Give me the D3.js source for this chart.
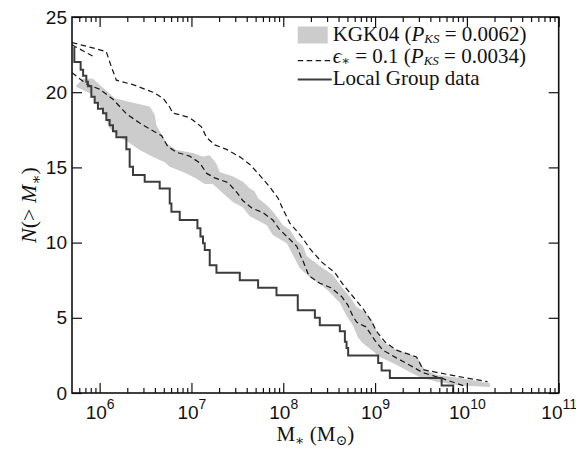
<!DOCTYPE html>
<html>
<head>
<meta charset="utf-8">
<script src="https://cdn.jsdelivr.net/npm/d3@7"></script>
<style>
  body { margin: 0; background: #fff; }
  .tick text { font-family: "Liberation Sans", Arial, sans-serif; font-size: 19px; fill: #111; }
  .serif { font-family: "Liberation Serif", "DejaVu Serif", serif; fill: #111; }
</style>
</head>
<body>
<div id="chart"></div>
<script>
// Local Group data, cumulative step counts
var lgMass = [5.3e5, 5.3e5, 6.21e5, 6.61e5, 7.16e5, 7.45e5, 8.12e5, 8.83e5, 9.58e5, 1.087e6, 1.183e6, 1.285e6, 1.397e6, 1.521e6, 1.954e6, 2.124e6, 2.308e6, 3.095e6, 4.51e6, 5.8e6, 6.05e6, 7.45e6, 1.162e7, 1.253e7, 1.337e7, 1.396e7, 1.582e7, 1.872e7, 3.36e7, 5.32e7, 8.44e7, 1.439e8, 2.21e8, 2.5e8, 4.13e8, 4.69e8, 4.89e8, 5.09e8, 1.081e9, 1.178e9, 1.449e9, 5.31e9, 7.1e9];
var lgN = [23, 22, 21.5, 21.1, 20.7, 20.4, 19.7, 19.3, 18.9, 18.6, 18.15, 17.8, 17.4, 17.0, 16.2, 15.05, 14.5, 14.05, 13.6, 12.6, 12.05, 11.5, 10.95, 10.4, 9.95, 9.5, 8.5, 8.0, 7.5, 7.0, 6.5, 5.5, 5.0, 4.5, 4.1, 3.4, 3.0, 2.5, 2.0, 1.5, 1.0, 0.5, 0];

// eps* = 0.1 model, upper and lower dashed curves
var epsHiMass = [5.0e5, 7.78e5, 1.18e6, 1.34e6, 1.52e6, 2.31e6, 3.81e6, 4.9e6, 5.8e6, 6.3e6, 7.45e6, 9.57e6, 1.284e7, 1.456e7, 1.794e7, 2.405e7, 3.36e7, 4.32e7, 5.32e7, 7.13e7, 8.79e7, 9.96e7, 1.178e8, 1.58e8, 1.946e8, 2.63e8, 3.65e8, 4.49e8, 5.77e8, 7.41e8, 9.16e8, 1.038e9, 1.279e9, 1.715e9, 2.83e9, 3.34e9, 6.53e9, 1.68e10];
var epsHiN = [23.3, 23.0, 22.7, 21.7, 20.8, 20.5, 20.0, 19.6, 19.0, 18.6, 18.5, 18.3, 17.7, 17.0, 16.5, 16.2, 15.7, 15.2, 14.6, 13.7, 12.95, 12.2, 11.3, 10.4, 9.6, 8.7, 8.0, 7.2, 6.4, 5.6, 4.75, 4.1, 3.4, 2.85, 2.4, 1.55, 1.2, 0.75];
var epsLoMass = [5.0e5, 6.05e5, 7.4e5, 1.0e6, 1.386e6, 1.969e6, 2.73e6, 3.51e6, 4.74e6, 5.51e6, 6.9e6, 9.57e6, 1.23e7, 1.466e7, 1.794e7, 2.49e7, 3.11e7, 3.62e7, 4.54e7, 5.98e7, 7.69e7, 9.17e7, 1.12e8, 1.404e8, 1.552e8, 1.675e8, 1.898e8, 2.5e8, 3.3e8, 4.34e8, 5.05e8, 5.73e8, 6.33e8, 7.93e8, 9.95e8, 1.216e9, 1.686e9, 2.39e9, 3.32e9, 5.48e9, 1.0e10];
var epsLoN = [21.3, 20.9, 20.5, 20.2, 19.55, 18.55, 17.95, 17.55, 17.1, 16.4, 16.0, 15.75, 15.3, 14.6, 14.3, 14.0, 13.35, 12.8, 12.3, 12.0, 11.5, 10.85, 10.35, 9.75, 9.1, 8.65, 7.8, 7.3, 7.0, 6.4, 5.85, 5.1, 4.7, 4.4, 3.5, 2.85, 2.35, 1.85, 1.35, 0.95, 0.4];
var epsTailMass = [5.0e5, 8.4e5];
var epsTailN = [23.15, 22.4];

// KGK04 band
var bandHiMass = [5.57e5, 6.58e5, 8.45e5, 1.0e6, 1.285e6, 1.458e6, 2.124e6, 3.51e6, 3.98e6, 4.15e6, 4.9e6, 5.33e6, 6.86e6, 1.04e7, 1.337e7, 1.582e7, 1.872e7, 2.03e7, 2.84e7, 3.65e7, 4.32e7, 4.89e7, 5.32e7, 6.57e7, 7.75e7, 8.79e7, 9.96e7, 1.178e8, 1.393e8, 1.645e8, 1.804e8, 2.5e8, 3.47e8, 4.34e8, 5.31e8, 6.33e8, 7.74e8, 9.23e8, 1.045e9, 1.216e9, 1.726e9, 2.22e9, 2.85e9, 3.49e9, 4.71e9, 8.39e9, 1.78e10];
var bandHiN = [20.45, 20.9, 20.9, 20.5, 19.9, 19.6, 19.35, 19.05, 18.5, 17.8, 17.05, 16.6, 16.15, 15.95, 15.7, 15.8, 15.25, 14.7, 14.4, 14.05, 13.6, 13.4, 12.95, 12.5, 12.05, 11.6, 11.15, 10.85, 10.15, 9.75, 9.1, 8.45, 7.85, 7.05, 6.4, 5.7, 5.4, 4.85, 4.05, 3.4, 2.85, 2.65, 2.4, 1.55, 1.2, 1.0, 0.65];
var bandLoMass = [5.57e5, 7.78e5, 9.51e5, 1.106e6, 1.285e6, 1.652e6, 2.02e6, 2.73e6, 3.78e6, 5.12e6, 5.8e6, 8.45e6, 1.141e7, 1.396e7, 1.708e7, 2.19e7, 2.82e7, 3.62e7, 4.32e7, 6.61e7, 7.69e7, 1.092e8, 1.27e8, 1.514e8, 1.946e8, 2.7e8, 3.21e8, 4.13e8, 4.92e8, 5.73e8, 6.49e8, 7.36e8, 9.23e8, 1.128e9, 1.563e9, 2.39e9, 3.08e9, 4.71e9, 8.39e9, 1.78e10];
var bandLoN = [20.35, 19.95, 19.3, 18.7, 17.6, 17.0, 16.7, 16.15, 15.7, 15.35, 15.05, 14.65, 14.25, 13.9, 13.9, 13.3, 12.7, 12.35, 11.75, 11.15, 10.5, 9.95, 9.2, 8.3, 7.7, 7.1, 6.7, 6.0, 5.1, 4.5, 3.7, 3.3, 2.85, 2.4, 2.0, 1.4, 1.05, 0.75, 0.5, 0.4];

// axes
var xTickPowers = [6, 7, 8, 9, 10, 11];
var yTicks = [0, 5, 10, 15, 20, 25];

var margin = {top: 17, right: 17.3, bottom: 57, left: 72},
    width = 576 - margin.left - margin.right,
    height = 450 - margin.top - margin.bottom;

var svg = d3.select("#chart").append("svg")
    .attr("width", 576)
    .attr("height", 450)
  .append("g")
    .attr("transform", "translate(" + margin.left + "," + margin.top + ")");

var x = d3.scaleLog().domain([5e5, 1e11]).range([0, width]);
var y = d3.scaleLinear().domain([0, 25]).range([height, 0]);

function pts(ms, ns) {
  return ms.map(function(m, i) { return [m, ns[i]]; });
}

svg.append("clipPath").attr("id", "clip")
  .append("rect").attr("width", width).attr("height", height);

var plot = svg.append("g").attr("clip-path", "url(#clip)");

var line = d3.line().x(d => x(d[0])).y(d => y(d[1]));

// gray band: upper edge left to right, lower edge back
var band = pts(bandHiMass, bandHiN).concat(pts(bandLoMass, bandLoN).reverse());
plot.append("path")
    .attr("d", line(band) + "Z")
    .attr("fill", "#cccccc")
    .attr("stroke", "none");

[pts(epsHiMass, epsHiN), pts(epsLoMass, epsLoN), pts(epsTailMass, epsTailN)].forEach(function(p) {
  plot.append("path")
      .attr("d", line(p))
      .attr("fill", "none")
      .attr("stroke", "#1a1a1a")
      .attr("stroke-width", 1.25)
      .attr("stroke-dasharray", "5.5,3.5");
});

plot.append("path")
    .attr("d", d3.line().curve(d3.curveStepAfter).x(d => x(d[0])).y(d => y(d[1]))(pts(lgMass, lgN)))
    .attr("fill", "none")
    .attr("stroke", "#3c3c3c")
    .attr("stroke-width", 2);

// minor ticks on the log axis
var minor = [];
for (var p = 5; p < 11; p++) {
  for (var k = 2; k < 10; k++) {
    var v = k * Math.pow(10, p);
    if (v > 5e5 && v < 1e11) minor.push(v);
  }
}
var majors = xTickPowers.map(p => Math.pow(10, p));

svg.append("g")
    .attr("transform", "translate(0," + height + ")")
    .call(d3.axisBottom(x).tickValues(minor).tickSize(-5).tickFormat(""));
svg.append("g")
    .call(d3.axisTop(x).tickValues(minor).tickSize(-5).tickFormat(""));
svg.append("g")
    .call(d3.axisTop(x).tickValues(majors).tickSize(-10).tickFormat(""));

var xAxis = svg.append("g")
    .attr("transform", "translate(0," + height + ")")
    .call(d3.axisBottom(x).tickValues(majors).tickSize(-10));
xAxis.selectAll(".tick text").each(function(d) {
  var t = d3.select(this);
  t.text("").attr("y", 26).attr("dy", null);
  t.append("tspan").text("10");
  t.append("tspan").attr("dy", -10).style("font-size", "14px").text(Math.round(Math.log10(d)));
});

svg.append("g")
    .call(d3.axisLeft(y).tickValues(yTicks).tickSize(-10).tickPadding(5));
svg.append("g")
    .attr("transform", "translate(" + width + ",0)")
    .call(d3.axisRight(y).tickValues(yTicks).tickSize(-10).tickFormat(""));

svg.selectAll(".domain").remove();
svg.selectAll(".tick line").attr("stroke", "#111").attr("stroke-width", 1.2);

svg.append("rect")
    .attr("width", width)
    .attr("height", height)
    .attr("fill", "none")
    .attr("stroke", "#111")
    .attr("stroke-width", 1.6);

// axis titles
var xt = svg.append("text")
    .attr("class", "serif")
    .attr("x", width / 2)
    .attr("y", height + 48)
    .attr("text-anchor", "middle")
    .style("font-size", "21px");
xt.append("tspan").text("M");
xt.append("tspan").attr("dy", 4).style("font-size", "14px").text("\u2217");
xt.append("tspan").attr("dy", -4).text(" (M");
xt.append("tspan").attr("dy", 4).style("font-size", "14px").text("\u2299");
xt.append("tspan").attr("dy", -4).text(")");

var yt = svg.append("text")
    .attr("class", "serif")
    .attr("transform", "translate(" + (-36) + "," + (height / 2) + ") rotate(-90)")
    .attr("text-anchor", "middle")
    .style("font-size", "22px");
yt.append("tspan").style("font-style", "italic").text("N");
yt.append("tspan").text("(> ");
yt.append("tspan").style("font-style", "italic").text("M");
yt.append("tspan").attr("dy", 5).style("font-size", "15px").text("\u2217");
yt.append("tspan").attr("dy", -5).text(")");

// legend
var lg = svg.append("g").attr("transform", "translate(" + (297.7 - margin.left) + "," + (26.5 - margin.top) + ")");
lg.append("rect").attr("x", 0).attr("y", 0).attr("width", 30).attr("height", 17).attr("fill", "#cccccc");
lg.append("line").attr("x1", 0).attr("x2", 34).attr("y1", 34).attr("y2", 34)
    .attr("stroke", "#1a1a1a").attr("stroke-width", 1.25).attr("stroke-dasharray", "5.5,3.5");
lg.append("line").attr("x1", 0).attr("x2", 34).attr("y1", 53).attr("y2", 53)
    .attr("stroke", "#3c3c3c").attr("stroke-width", 2);

function pks(t, val) {
  t.append("tspan").style("font-style", "italic").text("P");
  t.append("tspan").attr("dy", 2).style("font-size", "13px").style("font-style", "italic").text("KS");
  t.append("tspan").attr("dy", -2).text(" = " + val + ")");
}

var t1 = lg.append("text").attr("class", "serif").attr("x", 35).attr("y", 14).style("font-size", "21px");
t1.append("tspan").text("KGK04 (");
pks(t1, "0.0062");

var t2 = lg.append("text").attr("class", "serif").attr("x", 35).attr("y", 36).style("font-size", "21px");
t2.append("tspan").style("font-style", "italic").text("\u03f5");
t2.append("tspan").attr("dy", 2).style("font-size", "13px").text("\u2217");
t2.append("tspan").attr("dy", -2).text(" = 0.1 (");
pks(t2, "0.0034");

var t3 = lg.append("text").attr("class", "serif").attr("x", 35).attr("y", 58.5).style("font-size", "21px");
t3.text("Local Group data");
</script>
</body>
</html>
